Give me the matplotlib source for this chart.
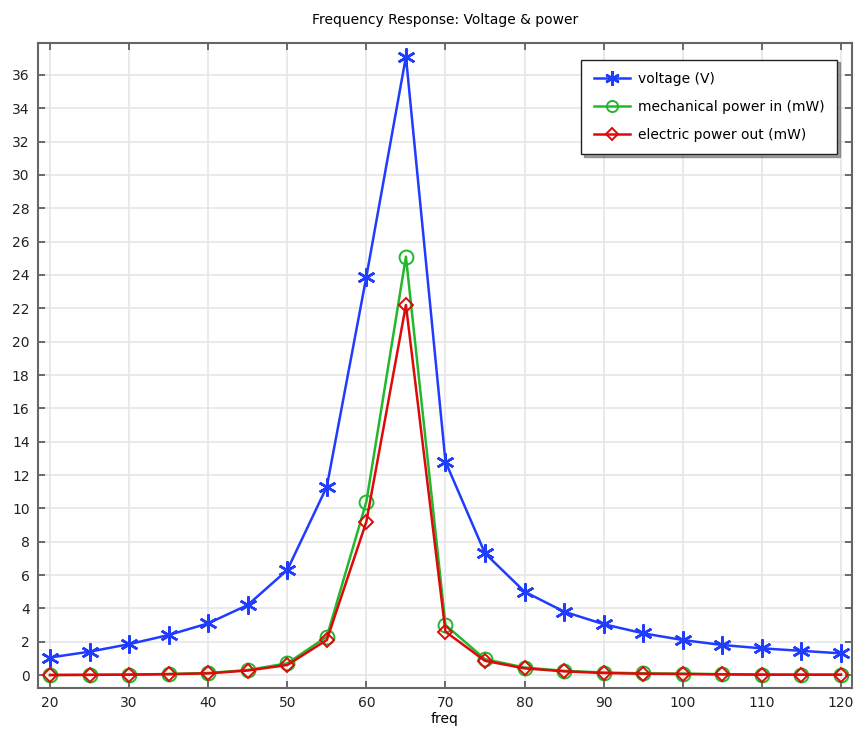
import matplotlib
matplotlib.use("Agg")
import matplotlib.pyplot as plt

# -- data --------------------------------------------------------------------
freq = [20, 25, 30, 35, 40, 45, 50, 55, 60, 65, 70,
        75, 80, 85, 90, 95, 100, 105, 110, 115, 120]
voltage = [1.05, 1.4, 1.85, 2.4, 3.1, 4.2, 6.3, 11.3, 23.9, 37.1, 12.8,
           7.3, 5.0, 3.8, 3.05, 2.5, 2.1, 1.8, 1.6, 1.45, 1.3]
mech_power = [0.0, 0.01, 0.03, 0.06, 0.12, 0.3, 0.7, 2.3, 10.4, 25.1, 3.0,
              0.95, 0.45, 0.25, 0.15, 0.1, 0.08, 0.05, 0.03, 0.02, 0.02]
elec_power = [0.0, 0.01, 0.02, 0.05, 0.1, 0.27, 0.6, 2.1, 9.2, 22.2, 2.6,
              0.85, 0.4, 0.22, 0.12, 0.08, 0.06, 0.04, 0.02, 0.02, 0.02]

x_ticks = list(range(20, 121, 10))
y_ticks = list(range(0, 37, 2))

BLUE = "#1f3cff"
GREEN = "#22b82e"
RED = "#dc0a0a"

fig = plt.figure(figsize=(8.57, 7.31), dpi=100)
ax = fig.add_axes([0.0443, 0.0588, 0.9499, 0.8824])

ax.plot(freq, voltage, color=BLUE, lw=1.8, marker=(6, 2, 0), ms=13,
        mew=1.8, label="voltage (V)")
ax.plot(freq, mech_power, color=GREEN, lw=1.8, marker="o", ms=10,
        mfc="none", mew=1.4, label="mechanical power in (mW)")
ax.plot(freq, elec_power, color=RED, lw=1.8, marker="D", ms=7.5,
        mfc="none", mew=1.4, label="electric power out (mW)")

ax.set_xlim(18.48, 121.4)
ax.set_ylim(-0.78, 37.92)
ax.set_xticks(x_ticks)
ax.set_yticks(y_ticks)
ax.tick_params(direction="in", length=5, width=1.2, color="#555555",
               labelsize=10, labelcolor="#222222", top=True, right=True, pad=6)
ax.grid(True, color="#e6e6e6", lw=1.2)
ax.set_axisbelow(True)
for s in ax.spines.values():
    s.set_color("#666666")
    s.set_linewidth(1.5)

ax.set_xlabel("freq", fontsize=10, labelpad=1)
ax.set_title("Frequency Response: Voltage & power", fontsize=10, pad=14)

leg = ax.legend(loc="upper right", bbox_to_anchor=(0.9905, 0.985),
                fontsize=10, fancybox=False, shadow=True, framealpha=1,
                edgecolor="#222222", borderpad=0.9, labelspacing=1.0,
                handlelength=2.6, handletextpad=0.6)
leg.get_frame().set_linewidth(1.0)
for h in leg.legend_handles:
    h.set_markersize(h.get_markersize() * 0.8)

fig.savefig("out.png", dpi=100)
